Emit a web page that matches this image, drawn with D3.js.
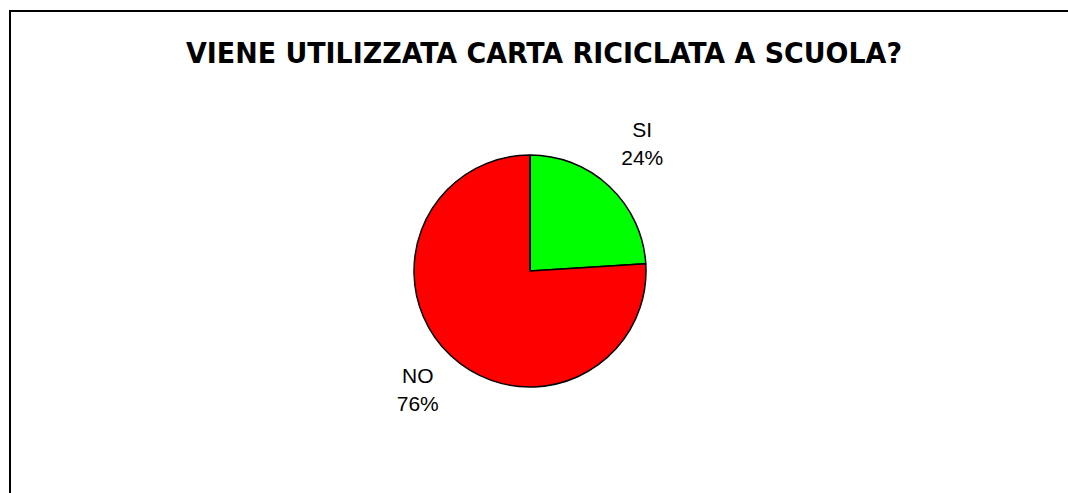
<!DOCTYPE html>
<html>
<head>
<meta charset="utf-8">
<script src="https://cdn.jsdelivr.net/npm/d3@7"></script>
<style>
  body { margin: 0; background: #fff; }
  svg { display: block; }
</style>
</head>
<body>
<div id="chart"></div>
<script>
// dati del grafico
const categories = ['SI', 'NO'];
const values = [24, 76];
const colors = ['#00ff00', '#ff0000'];
const title = 'VIENE UTILIZZATA CARTA RICICLATA A SCUOLA?';

const width = 1068, height = 493;
const cx = 530, cy = 271, radius = 116;

const svg = d3.select('#chart').append('svg')
  .attr('width', width)
  .attr('height', height);

// cornice
svg.append('rect')
  .attr('x', 10).attr('y', 11)
  .attr('width', 1080).attr('height', 500)
  .attr('fill', '#fff')
  .attr('stroke', '#000')
  .attr('stroke-width', 2);

// titolo
svg.append('text')
  .attr('x', 544).attr('y', 63)
  .attr('text-anchor', 'middle')
  .attr('font-family', 'DejaVu Sans Condensed, DejaVu Sans, sans-serif')
  .attr('font-weight', 'bold')
  .attr('font-size', 29)
  .attr('textLength', 716)
  .attr('lengthAdjust', 'spacingAndGlyphs')
  .text(title);

const data = categories.map((c, i) => ({ label: c, value: values[i], color: colors[i] }));

const pie = d3.pie().sort(null).value(d => d.value);
const arc = d3.arc().innerRadius(0).outerRadius(radius);
const labelArc = d3.arc().innerRadius(164).outerRadius(164);

const g = svg.append('g').attr('transform', `translate(${cx},${cy})`);
const arcs = pie(data);

g.selectAll('path')
  .data(arcs)
  .join('path')
  .attr('d', arc)
  .attr('fill', d => d.data.color)
  .attr('stroke', '#000')
  .attr('stroke-width', 1.5)
  .attr('stroke-linejoin', 'round');

// etichette
const total = d3.sum(values);
const lbl = g.selectAll('text.lbl')
  .data(arcs)
  .join('text')
  .attr('class', 'lbl')
  .attr('text-anchor', 'middle')
  .attr('font-family', 'Liberation Sans, Arial, sans-serif')
  .attr('font-size', 21)
  .attr('fill', '#000')
  .attr('transform', d => {
    const [x, y] = labelArc.centroid(d);
    // le etichette in alto stanno un po' più su
    return `translate(${x},${y < 0 ? y - 8 : y - 2})`;
  });

lbl.append('tspan')
  .attr('x', 0).attr('y', -6)
  .text(d => d.data.label);
lbl.append('tspan')
  .attr('x', 0).attr('y', 22)
  .text(d => Math.round(d.data.value / total * 100) + '%');
</script>
</body>
</html>
